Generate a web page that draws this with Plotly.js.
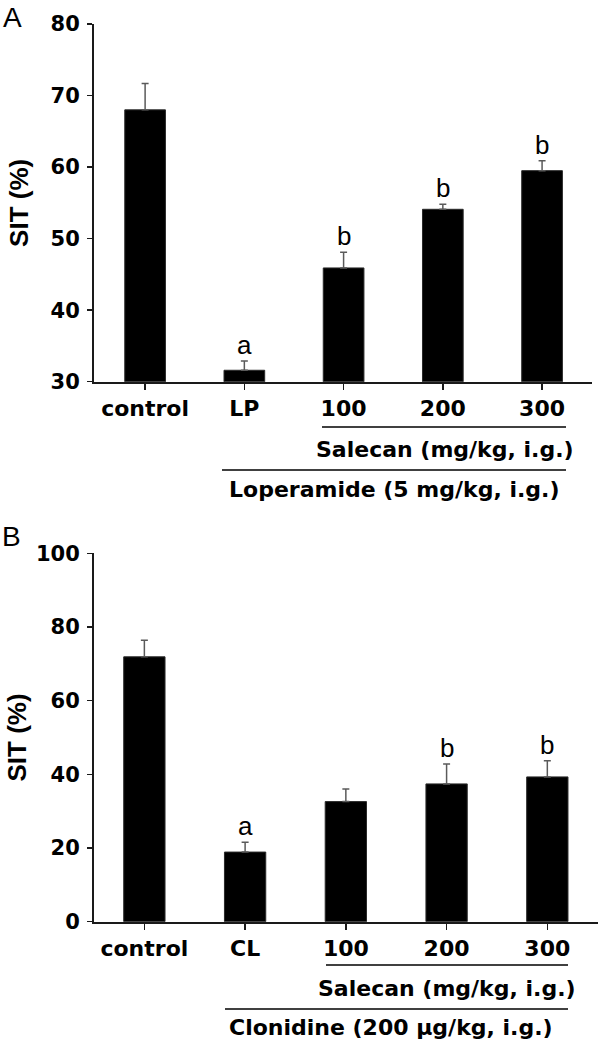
<!DOCTYPE html>
<html>
<head>
<meta charset="utf-8">
<script src="https://cdn.plot.ly/plotly-3.0.1.min.js"></script>
<style>
  html, body { margin: 0; padding: 0; background: #fff; }
  #chart { width: 600px; height: 1045px; }
</style>
</head>
<body>
<div id="chart"></div>
<script>
// ---- Data ----
const categoriesA = ['control', 'LP', '100', '200', '300'];
const valuesA     = [68.0, 31.6, 45.9, 54.1, 59.5];
const errorsA     = [3.7, 1.3, 2.2, 0.7, 1.4];
const lettersA    = ['', 'a', 'b', 'b', 'b'];

const categoriesB = ['control', 'CL', '100', '200', '300'];
const valuesB     = [71.9, 18.9, 32.6, 37.4, 39.3];
const errorsB     = [4.5, 2.7, 3.4, 5.4, 4.4];
const lettersB    = ['', 'a', '', 'b', 'b'];

const yTitle = 'SIT (%)';
const groupA_inner = 'Salecan (mg/kg, i.g.)';
const groupA_outer = 'Loperamide (5 mg/kg, i.g.)';
const groupB_inner = 'Salecan (mg/kg, i.g.)';
const groupB_outer = 'Clonidine (200 µg/kg, i.g.)';

// ---- Helpers: pixel -> paper ----
const W = 600, H = 1045;
const px = x => x / W;
const py = y => 1 - y / H;

const BOLD = 'DejaVu Sans';
const REG = 'Liberation Sans, Arial, sans-serif';
const AXC = '#1a1a1a';

function barTrace(cats, vals, errs, xa, ya) {
  return {
    type: 'bar',
    x: cats, y: vals,
    xaxis: xa, yaxis: ya,
    marker: { color: '#000000', line: { color: '#2a2a2a', width: 1 } },
    error_y: {
      type: 'data', symmetric: false,
      array: errs, arrayminus: errs.map(() => 0),
      color: '#5a5a5a', thickness: 1.5, width: 3.5
    },
    hoverinfo: 'skip'
  };
}

const data = [
  barTrace(categoriesA, valuesA, errorsA, 'x', 'y'),
  barTrace(categoriesB, valuesB, errorsB, 'x2', 'y2')
];

function xAxis(domain, range, anchor) {
  return {
    domain: domain, range: range, anchor: anchor, type: 'category',
    showline: true, linecolor: AXC, linewidth: 2,
    ticks: 'outside', ticklen: 6, tickwidth: 1.5, tickcolor: AXC,
    tickfont: { family: BOLD, size: 22, color: '#000', weight: 'bold' },
    ticklabelstandoff: 0,
    showgrid: false, zeroline: false, fixedrange: true
  };
}
function yAxis(domain, range, dtick, anchor, standoff) {
  return {
    domain: domain, range: range, dtick: dtick, anchor: anchor,
    showline: true, linecolor: AXC, linewidth: 2,
    ticks: 'outside', ticklen: 5, tickwidth: 1.5, tickcolor: AXC,
    tickfont: { family: BOLD, size: 21, color: '#000', weight: 'bold' },
    ticklabelstandoff: 3,
    title: { text: yTitle, font: { family: REG, size: 26, color: '#000', weight: 'bold' }, standoff: standoff },
    showgrid: false, zeroline: false, fixedrange: true
  };
}

const annotations = [];
function letterAnns(vals, errs, letters, xa, ya) {
  letters.forEach((t, i) => {
    if (!t) return;
    annotations.push({
      xref: xa, yref: ya, x: i, y: vals[i] + errs[i],
      text: t, showarrow: false, yanchor: 'bottom', yshift: -1,
      font: { family: REG, size: 26, color: '#000' }
    });
  });
}
letterAnns(valuesA, errorsA, lettersA, 'x', 'y');
letterAnns(valuesB, errorsB, lettersB, 'x2', 'y2');

function groupText(text, xc, yc) {
  annotations.push({
    xref: 'paper', yref: 'paper', x: px(xc), y: py(yc),
    xanchor: 'center', yanchor: 'middle', showarrow: false, text: text,
    font: { family: BOLD, size: 22, color: '#000', weight: 'bold' }
  });
}
groupText(groupA_inner, 445, 449);
groupText(groupA_outer, 394, 489);
groupText(groupB_inner, 447, 988);
groupText(groupB_outer, 391, 1027);

// Panel letters
annotations.push({ xref: 'paper', yref: 'paper', x: px(12), y: py(17), xanchor: 'center', yanchor: 'middle',
  showarrow: false, text: 'A', font: { family: REG, size: 28, color: '#000' } });
annotations.push({ xref: 'paper', yref: 'paper', x: px(11), y: py(536), xanchor: 'center', yanchor: 'middle',
  showarrow: false, text: 'B', font: { family: REG, size: 28, color: '#000' } });

function hline(x0, x1, y) {
  return { type: 'line', xref: 'paper', yref: 'paper', x0: px(x0), x1: px(x1), y0: py(y), y1: py(y),
           line: { color: '#000', width: 1.5 } };
}
const shapes = [
  hline(322, 566, 427),
  hline(222, 566, 470),
  hline(326, 568, 965),
  hline(225, 568, 1009)
];

const layout = {
  width: W, height: H,
  margin: { l: 0, r: 0, t: 0, b: 0 },
  paper_bgcolor: '#ffffff', plot_bgcolor: '#ffffff',
  showlegend: false, bargap: 0.59,
  xaxis: xAxis([px(94), px(591.7)], [-0.515, 4.5], 'y'),
  yaxis: yAxis([py(381.7), py(24)], [30, 80], 10, 'x', 14),
  xaxis2: xAxis([px(94), px(597.7)], [-0.5, 4.5], 'y2'),
  yaxis2: yAxis([py(921.7), py(553.3)], [0, 100], 20, 'x2', 2),
  annotations: annotations,
  shapes: shapes
};

Plotly.newPlot('chart', data, layout, { staticPlot: true, displayModeBar: false });
</script>
</body>
</html>
